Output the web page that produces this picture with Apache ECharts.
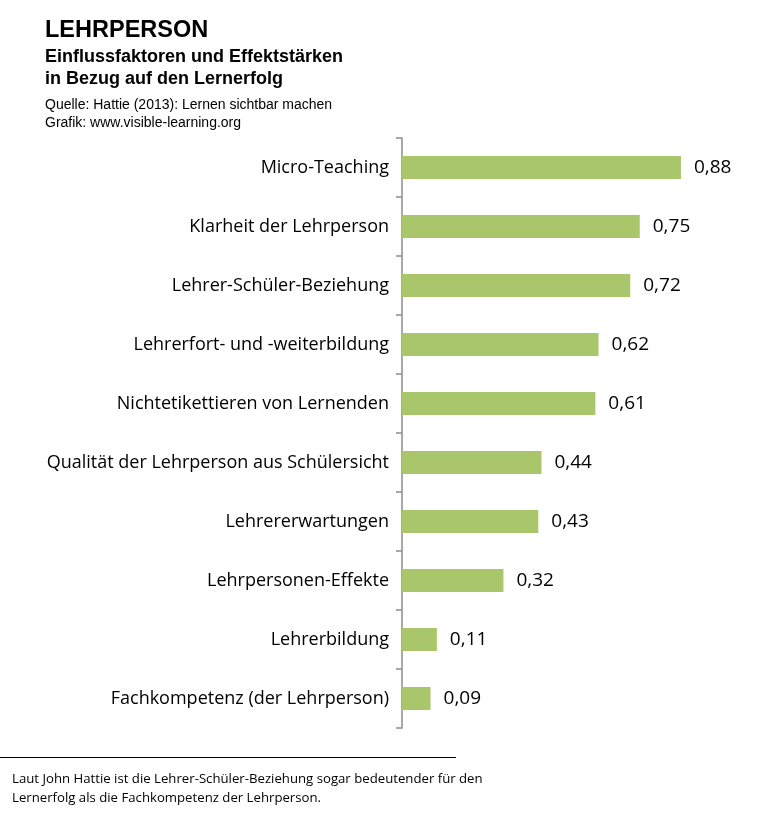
<!DOCTYPE html>
<html>
<head>
<meta charset="utf-8">
<script src="https://cdn.jsdelivr.net/npm/echarts@6/dist/echarts.min.js"></script>
<style>
html,body{margin:0;padding:0;background:#fff;}
#chart{width:759px;height:822px;}
</style>
</head>
<body>
<div id="chart"></div>
<script>
// Einflussfaktoren (von oben nach unten)
var faktoren=[
    'Micro-Teaching',
    'Klarheit der Lehrperson',
    'Lehrer-Schüler-Beziehung',
    'Lehrerfort- und -weiterbildung',
    'Nichtetikettieren von Lernenden',
    'Qualität der Lehrperson aus Schülersicht',
    'Lehrererwartungen',
    'Lehrpersonen-Effekte',
    'Lehrerbildung',
    'Fachkompetenz (der Lehrperson)'
];
var effektstaerken=[0.88,0.75,0.72,0.62,0.61,0.44,0.43,0.32,0.11,0.09];

var titel='LEHRPERSON';
var untertitel=['Einflussfaktoren und Effektstärken','in Bezug auf den Lernerfolg'];
var quelle=['Quelle: Hattie (2013): Lernen sichtbar machen','Grafik: www.visible-learning.org'];
var fussnote=['Laut John Hattie ist die Lehrer-Schüler-Beziehung sogar bedeutender für den','Lernerfolg als die Fachkompetenz der Lehrperson.'];

var myChart=echarts.init(document.getElementById('chart'));
var option={
    backgroundColor:'#fff',
    animation:false,
    graphic:[
        {type:'text',left:45,top:19,style:{text:titel,font:'bold 23.5px "Liberation Sans"',fill:'#000'}},
        {type:'text',left:45,top:46,style:{text:untertitel.join('\n'),font:'bold 18px "Liberation Sans"',fill:'#000',lineHeight:22}},
        {type:'text',left:45,top:96,style:{text:quelle.join('\n'),font:'14px "Liberation Sans"',fill:'#000',lineHeight:18}},
        {type:'line',shape:{x1:0,y1:757.5,x2:456,y2:757.5},style:{stroke:'#000',lineWidth:1}},     //Trennlinie
        {type:'text',left:12,top:770,style:{text:fussnote.join('\n'),font:'13.2px "Open Sans"',fill:'#000',lineHeight:19}}
    ],
    grid:{left:402,top:138,bottom:94,right:40},
    xAxis:{
        type:'value',
        min:0,
        max:1,
        show:false
    },
    yAxis:{
        type:'category',
        inverse:true,
        data:faktoren,
        axisLine:{lineStyle:{color:'#8c8c8c',width:1.5}},
        axisTick:{show:true,length:6,interval:0,lineStyle:{color:'#8c8c8c',width:1.5}},
        axisLabel:{
            margin:13,
            interval:0,
            color:'#000',
            fontFamily:'Open Sans',
            fontSize:18
        }
    },
    series:[
        {
            type:'bar',
            data:effektstaerken,
            barWidth:23,
            itemStyle:{color:'#a9c66b'},
            label:{
                show:true,
                position:'right',
                distance:13,
                color:'#000',
                fontFamily:'Open Sans',
                fontSize:19,
                formatter:function (p) {
                    return p.value.toFixed(2).replace('.',',');           //Komma statt Punkt
                }
            }
        }
    ]
};
option && myChart.setOption(option);
</script>
</body>
</html>
